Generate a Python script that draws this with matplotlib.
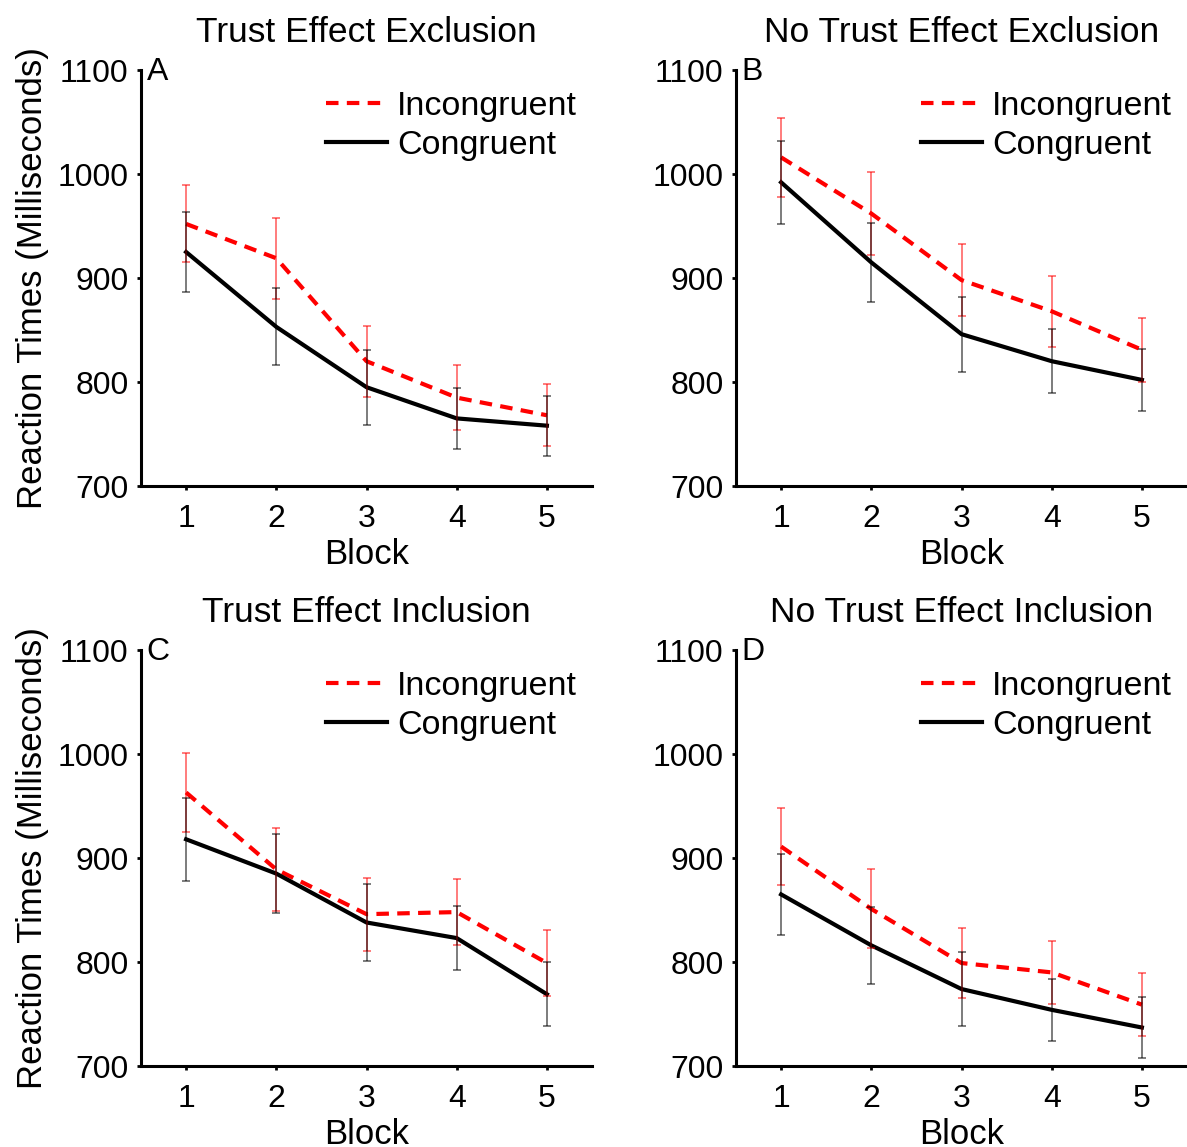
import matplotlib
matplotlib.use("Agg")
import matplotlib.pyplot as plt
import numpy as np

plt.rcParams['font.family'] = ['Liberation Sans', 'DejaVu Sans']

blocks = [1, 2, 3, 4, 5]
titles = ["Trust Effect Exclusion", "No Trust Effect Exclusion",
          "Trust Effect Inclusion", "No Trust Effect Inclusion"]
panel_letters = ["A", "B", "C", "D"]

# Means (ms)
incong_A = [952, 919, 820, 785, 768]
cong_A = [925, 853, 795, 765, 758]
incong_B = [1016, 962, 898, 868, 831]
cong_B = [992, 915, 846, 820, 802]
incong_C = [963, 889, 846, 848, 799]
cong_C = [918, 885, 838, 823, 769]
incong_D = [911, 851, 799, 790, 759]
cong_D = [865, 816, 774, 754, 737]

# Error bar half-widths (ms)
incong_err_A = [37, 39, 34, 31, 30]
cong_err_A = [38, 37, 36, 29, 29]
incong_err_B = [38, 40, 35, 34, 31]
cong_err_B = [40, 38, 36, 31, 30]
incong_err_C = [38, 40, 35, 32, 32]
cong_err_C = [40, 38, 37, 31, 31]
incong_err_D = [37, 38, 34, 30, 30]
cong_err_D = [39, 37, 36, 30, 29]

incong = [incong_A, incong_B, incong_C, incong_D]
cong = [cong_A, cong_B, cong_C, cong_D]
incong_err = [incong_err_A, incong_err_B, incong_err_C, incong_err_D]
cong_err = [cong_err_A, cong_err_B, cong_err_C, cong_err_D]

yticks = [700, 800, 900, 1000, 1100]

W, H = 1187, 1147
fig = plt.figure(figsize=(W / 100, H / 100), dpi=100)

positions = [
    (141, 70), (736, 70),
    (141, 650), (736, 650),
]
aw, ah = 451, 416
tick_fs = 23
label_fs = 25
title_fs = 25.5
legend_fs = 24.5

for i, (px, py) in enumerate(positions):
    ax = fig.add_axes([px / W, 1 - (py + ah) / H, aw / W, ah / H])
    ax.errorbar(blocks, incong[i], yerr=incong_err[i], fmt='none',
                ecolor=(1, 0, 0, 0.65), elinewidth=1.1, capsize=3, capthick=1.1, zorder=3)
    ax.errorbar(blocks, cong[i], yerr=cong_err[i], fmt='none',
                ecolor=(0, 0, 0, 0.65), elinewidth=1.1, capsize=3, capthick=1.1, zorder=3)
    ax.plot(blocks, incong[i], color='red', lw=3, dashes=(3, 2), label='Incongruent', zorder=2)
    ax.plot(blocks, cong[i], color='black', lw=3, label='Congruent', zorder=2)

    ax.set_xlim(0.5, 5.5)
    ax.set_ylim(700, 1100)
    ax.set_xticks(blocks)
    ax.set_yticks(yticks)
    ax.tick_params(direction='out', length=3, width=2, labelsize=tick_fs)
    ax.tick_params(axis='x', pad=10)
    ax.tick_params(axis='y', pad=6)
    for s in ['top', 'right']:
        ax.spines[s].set_visible(False)
    for s in ['left', 'bottom']:
        ax.spines[s].set_linewidth(2.2)
    ax.set_title(titles[i], fontsize=title_fs, pad=20)
    ax.set_xlabel("Block", fontsize=label_fs, labelpad=3)
    if i % 2 == 0:
        ax.set_ylabel("Reaction Times (Milliseconds)", fontsize=label_fs, labelpad=6)
    ax.text(0.013, 0.995, panel_letters[i], transform=ax.transAxes, fontsize=tick_fs,
            va='center', ha='left')
    ax.legend(loc='upper right', bbox_to_anchor=(0.967, 0.95), frameon=False,
              fontsize=legend_fs, handlelength=1.8, handletextpad=0.3, labelspacing=0.25,
              borderaxespad=0, borderpad=0)

fig.savefig("out.png", dpi=100)
